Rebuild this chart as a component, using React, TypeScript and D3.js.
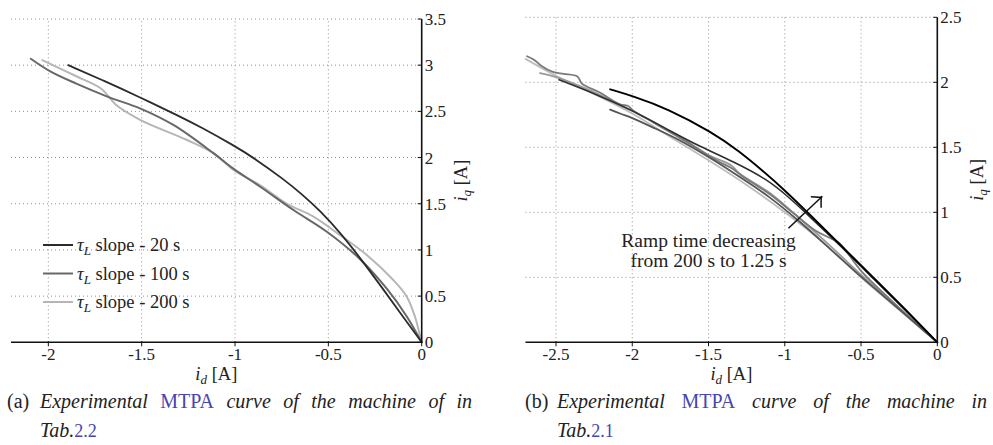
import React, { useEffect, useRef } from 'react';
import * as d3 from 'd3';

type Pt = [number, number];

// ---------- Panel (a) ----------
const aXTicks = [-2, -1.5, -1, -0.5, 0];
const aYTicks = [0, 0.5, 1, 1.5, 2, 2.5, 3, 3.5];
const aLegendLabels = ['20 s', '100 s', '200 s'];

const aSlope20: Pt[] = [
  [-1.893, 3.0], [-1.7, 2.83], [-1.517, 2.66], [-1.3, 2.45], [-1.185, 2.332], [-1.0, 2.123],
  [-0.9, 1.998], [-0.74, 1.766], [-0.64, 1.601], [-0.544, 1.423], [-0.437, 1.188], [-0.33, 0.915],
  [-0.2, 0.557], [-0.1, 0.277], [0, 0],
];
const aSlope100: Pt[] = [
  [-2.094, 3.07], [-1.987, 2.93], [-1.85, 2.8], [-1.684, 2.66], [-1.506, 2.53], [-1.328, 2.35],
  [-1.114, 2.045], [-1.009, 1.88], [-0.865, 1.684], [-0.687, 1.432], [-0.508, 1.197],
  [-0.33, 0.9], [-0.187, 0.58], [-0.08, 0.28], [0, 0],
];
const aSlope200: Pt[] = [
  [-2.032, 3.055], [-1.85, 2.88], [-1.72, 2.75], [-1.631, 2.56], [-1.506, 2.406], [-1.257, 2.19],
  [-1.114, 2.045], [-1.007, 1.865], [-0.865, 1.7], [-0.722, 1.5], [-0.58, 1.36], [-0.437, 1.16],
  [-0.294, 0.945], [-0.152, 0.674], [-0.08, 0.494], [-0.036, 0.277], [-0.01, 0.08], [0, 0],
];

// ---------- Panel (b) ----------
const bXTicks = [-2.5, -2, -1.5, -1, -0.5, 0];
const bYTicks = [0, 0.5, 1, 1.5, 2, 2.5];

const bRamp1: Pt[] = [
  [-2.145, 1.946], [-2.0, 1.895], [-1.773, 1.8], [-1.468, 1.61], [-1.3, 1.47], [-1.15, 1.325],
  [-1.0, 1.17], [-0.834, 0.98], [-0.637, 0.752], [-0.419, 0.498], [-0.2, 0.242], [0, 0],
];
const bRamp2: Pt[] = [
  [-2.48, 2.02], [-2.25, 1.915], [-2.0, 1.785], [-1.75, 1.625], [-1.555, 1.505], [-1.337, 1.39],
  [-1.118, 1.255], [-0.987, 1.13], [-0.834, 0.965], [-0.637, 0.745], [-0.419, 0.49],
  [-0.2, 0.236], [0, 0],
];
const bRamp3: Pt[] = [
  [-2.145, 1.79], [-2.08, 1.76], [-2.0, 1.725], [-1.85, 1.645], [-1.7, 1.56], [-1.5, 1.425],
  [-1.3, 1.275], [-1.1, 1.115], [-0.9, 0.925], [-0.7, 0.715], [-0.5, 0.505], [-0.25, 0.253], [0, 0],
];
const bRamp4: Pt[] = [
  [-2.69, 2.2], [-2.64, 2.17], [-2.6, 2.13], [-2.52, 2.08], [-2.45, 2.065], [-2.36, 2.045],
  [-2.33, 1.99], [-2.21, 1.92], [-2.08, 1.83], [-2.03, 1.82], [-1.99, 1.78], [-1.86, 1.69],
  [-1.73, 1.6], [-1.6, 1.51], [-1.45, 1.4], [-1.35, 1.34], [-1.28, 1.28], [-1.1, 1.14],
  [-0.95, 1.0], [-0.8, 0.86], [-0.7, 0.8], [-0.64, 0.76], [-0.5, 0.55], [-0.3, 0.32], [0, 0],
];
const bRamp5: Pt[] = [
  [-2.7, 2.18], [-2.5, 2.05], [-2.25, 1.91], [-2.0, 1.76], [-1.75, 1.58], [-1.5, 1.4],
  [-1.25, 1.21], [-1.0, 1.0], [-0.75, 0.77], [-0.5, 0.5], [-0.25, 0.25], [0, 0],
];
const bRamp6: Pt[] = [
  [-2.605, 2.07], [-2.5, 2.04], [-2.3, 1.95], [-2.1, 1.84], [-1.9, 1.72], [-1.7, 1.59],
  [-1.5, 1.44], [-1.35, 1.36], [-1.3, 1.3], [-1.1, 1.15], [-0.9, 0.95], [-0.7, 0.74],
  [-0.5, 0.52], [-0.25, 0.26], [0, 0],
];
const bAnnotationLines = ['Ramp time decreasing', 'from 200 s to 1.25 s'];
const bArrow: Pt[] = [[-0.976, 0.877], [-0.757, 1.12]];
const bAnnotationAnchor: Pt = [-1.5, 0.73];

// ---------- Captions ----------
const capAWords = ['Experimental', 'MTPA', 'curve', 'of', 'the', 'machine', 'of', 'in'];
const capBWords = ['Experimental', 'MTPA', 'curve', 'of', 'the', 'machine', 'in'];
const capARef = '2.2';
const capBRef = '2.1';

const SERIF = '"Liberation Serif", "Times New Roman", serif';
const LINK = '#4646b0';

interface SeriesStyle { data: Pt[]; color: string; width: number; smooth?: boolean }

interface PanelProps {
  xDomain: [number, number];
  xRange: [number, number];
  yDomain: [number, number];
  yRange: [number, number];
  xTicks: number[];
  yTicks: number[];
  series: SeriesStyle[];
  yLabelX: number;
  children?: (x: d3.ScaleLinear<number, number>, y: d3.ScaleLinear<number, number>) => React.ReactNode;
}

function fmt(v: number) {
  return String(v);
}

function Panel(p: PanelProps) {
  const x = d3.scaleLinear().domain(p.xDomain).range(p.xRange);
  const y = d3.scaleLinear().domain(p.yDomain).range(p.yRange);
  const lineRough = d3
    .line<Pt>()
    .x((d) => x(d[0]))
    .y((d) => y(d[1]))
    .curve(d3.curveCatmullRom.alpha(0.5));
  const lineSmooth = d3
    .line<Pt>()
    .x((d) => x(d[0]))
    .y((d) => y(d[1]))
    .curve(d3.curveBasis);
  const x0 = x(0);
  const y0 = y(0);
  const yTop = y(p.yDomain[1]);
  const xLeft = p.xRange[0];
  const midY = (y0 + yTop) / 2;
  return (
    <g>
      {p.xTicks.filter((t) => t !== 0).map((t) => (
        <line key={'gx' + t} x1={x(t)} x2={x(t)} y1={y0} y2={yTop} stroke="#909090" strokeWidth={1} strokeDasharray="1,3" />
      ))}
      {p.yTicks.filter((t) => t !== 0).map((t) => (
        <line key={'gy' + t} x1={xLeft} x2={x0} y1={y(t)} y2={y(t)} stroke="#909090" strokeWidth={1} strokeDasharray="1,3" />
      ))}
      {p.series.map((s, i) => (
        <path key={'s' + i} d={(s.smooth ? lineSmooth : lineRough)(s.data) || ''} fill="none" stroke={s.color} strokeWidth={s.width} strokeLinejoin="round" strokeLinecap="round" />
      ))}
      <line x1={xLeft} x2={x0} y1={y0} y2={y0} stroke="#111" strokeWidth={1.6} />
      <line x1={x0} x2={x0} y1={y0} y2={yTop} stroke="#111" strokeWidth={1.6} />
      {p.xTicks.map((t) => (
        <g key={'tx' + t}>
          <line x1={x(t)} x2={x(t)} y1={y0 - 1} y2={y0 + 4} stroke="#111" strokeWidth={1} />
          <text x={x(t)} y={y0 + 18} textAnchor="middle" fontFamily={SERIF} fontSize={17} fill="#222">{fmt(t)}</text>
        </g>
      ))}
      {p.yTicks.map((t) => (
        <g key={'ty' + t}>
          <line x1={x0 - 4} x2={x0} y1={y(t)} y2={y(t)} stroke="#111" strokeWidth={1} />
          <text x={x0 + 3} y={y(t)} dy="0.35em" fontFamily={SERIF} fontSize={17} fill="#222">{fmt(t)}</text>
        </g>
      ))}
      <text x={(xLeft + x0) / 2} y={y0 + 38} textAnchor="middle" fontFamily={SERIF} fontSize={18.5} fill="#222">
        <tspan fontStyle="italic">i</tspan>
        <tspan fontStyle="italic" fontSize={13} dy={4}>d</tspan>
        <tspan dy={-4}> [A]</tspan>
      </text>
      <text transform={`translate(${p.yLabelX},${midY}) rotate(-90)`} textAnchor="middle" fontFamily={SERIF} fontSize={18.5} fill="#222">
        <tspan fontStyle="italic">i</tspan>
        <tspan fontStyle="italic" fontSize={13} dy={4}>q</tspan>
        <tspan dy={-4}> [A]</tspan>
      </text>
      {p.children ? p.children(x, y) : null}
    </g>
  );
}

const aColors = ['#2b2b2b', '#686868', '#b6b6b6'];

export default function App() {
  const svgRef = useRef<SVGSVGElement>(null);

  useEffect(() => {
    const svg = d3.select(svgRef.current);
    svg.selectAll('g.caption').remove();
    const caps = [
      { label: '(a)', labelX: 7, x0: 40, x1: 472, words: capAWords, ref: capARef },
      { label: '(b)', labelX: 525, x0: 557, x1: 987, words: capBWords, ref: capBRef },
    ];
    const y1 = 408;
    const y2 = 437;
    caps.forEach((c) => {
      const g = svg.append('g').attr('class', 'caption').attr('font-family', SERIF).attr('font-size', 20).attr('fill', '#222');
      g.append('text').attr('x', c.labelX).attr('y', y1).text(c.label);
      const nodes = c.words.map((w) =>
        g
          .append('text')
          .attr('y', y1)
          .attr('font-style', w === 'MTPA' ? 'normal' : 'italic')
          .attr('fill', w === 'MTPA' ? LINK : '#222')
          .text(w)
      );
      const widths = nodes.map((n) => (n.node() as SVGTextElement).getComputedTextLength());
      const gap = (c.x1 - c.x0 - d3.sum(widths)) / (nodes.length - 1);
      let cx = c.x0;
      nodes.forEach((n, i) => {
        n.attr('x', cx);
        cx += widths[i] + gap;
      });
      const t2 = g.append('text').attr('x', c.x0).attr('y', y2);
      t2.append('tspan').attr('font-style', 'italic').text('Tab.');
      t2.append('tspan').attr('fill', LINK).attr('font-size', 18).text(c.ref);
    });
  }, []);

  const aSeries: SeriesStyle[] = [
    { data: aSlope200, color: aColors[2], width: 2 },
    { data: aSlope100, color: aColors[1], width: 2 },
    { data: aSlope20, color: aColors[0], width: 1.8, smooth: true },
  ];
  const bSeries: SeriesStyle[] = [
    { data: bRamp5, color: '#bdbdbd', width: 1.8 },
    { data: bRamp6, color: '#9a9a9a', width: 1.8 },
    { data: bRamp4, color: '#7a7a7a', width: 1.8 },
    { data: bRamp3, color: '#555555', width: 1.8 },
    { data: bRamp2, color: '#2e2e2e', width: 1.6, smooth: true },
    { data: bRamp1, color: '#000000', width: 1.9, smooth: true },
  ];

  return (
    <svg ref={svgRef} width={993} height={445} style={{ position: 'absolute', left: 0, top: 0, background: '#fff' }}>
      <rect x={0} y={0} width={993} height={445} fill="#fff" />
      <Panel
        xDomain={[-2.2, 0]}
        xRange={[11, 421.7]}
        yDomain={[0, 3.5]}
        yRange={[342.3, 19]}
        xTicks={aXTicks}
        yTicks={aYTicks}
        series={aSeries}
        yLabelX={467}
      >
        {() => (
          <g>
            {aLegendLabels.map((lab, i) => {
              const ly = 245 + i * 28.5;
              return (
                <g key={lab}>
                  <line x1={43} x2={73} y1={ly} y2={ly} stroke={aColors[i]} strokeWidth={2} />
                  <text x={77} y={ly + 6} fontFamily={SERIF} fontSize={18.5} fill="#222">
                    <tspan fontStyle="italic">τ</tspan>
                    <tspan fontStyle="italic" fontSize={13} dy={4}>L</tspan>
                    <tspan dy={-4}>{' slope - ' + lab}</tspan>
                  </text>
                </g>
              );
            })}
          </g>
        )}
      </Panel>
      <Panel
        xDomain={[-2.7, 0]}
        xRange={[525.5, 937.3]}
        yDomain={[0, 2.5]}
        yRange={[342.3, 17.3]}
        xTicks={bXTicks}
        yTicks={bYTicks}
        series={bSeries}
        yLabelX={983}
      >
        {(x, y) => {
          const [s, e] = bArrow;
          const sx = x(s[0]), sy = y(s[1]), ex = x(e[0]), ey = y(e[1]);
          const ang = Math.atan2(ey - sy, ex - sx);
          const L = 11;
          const b1 = [ex - L * Math.cos(ang - 0.75), ey - L * Math.sin(ang - 0.75)];
          const b2 = [ex - L * Math.cos(ang + 0.75), ey - L * Math.sin(ang + 0.75)];
          return (
            <g>
              <line x1={sx} y1={sy} x2={ex} y2={ey} stroke="#111" strokeWidth={1.5} />
              <path d={`M${b1[0]},${b1[1]} Q${ex - 1},${ey - 1} ${ex},${ey} Q${ex - 1},${ey + 1} ${b2[0]},${b2[1]}`} fill="none" stroke="#111" strokeWidth={1.5} />
              {bAnnotationLines.map((t, i) => (
                <text key={t} x={x(bAnnotationAnchor[0])} y={y(bAnnotationAnchor[1]) + i * 19.5} textAnchor="middle" fontFamily={SERIF} fontSize={19.5} fill="#222">
                  {t}
                </text>
              ))}
            </g>
          );
        }}
      </Panel>
    </svg>
  );
}
